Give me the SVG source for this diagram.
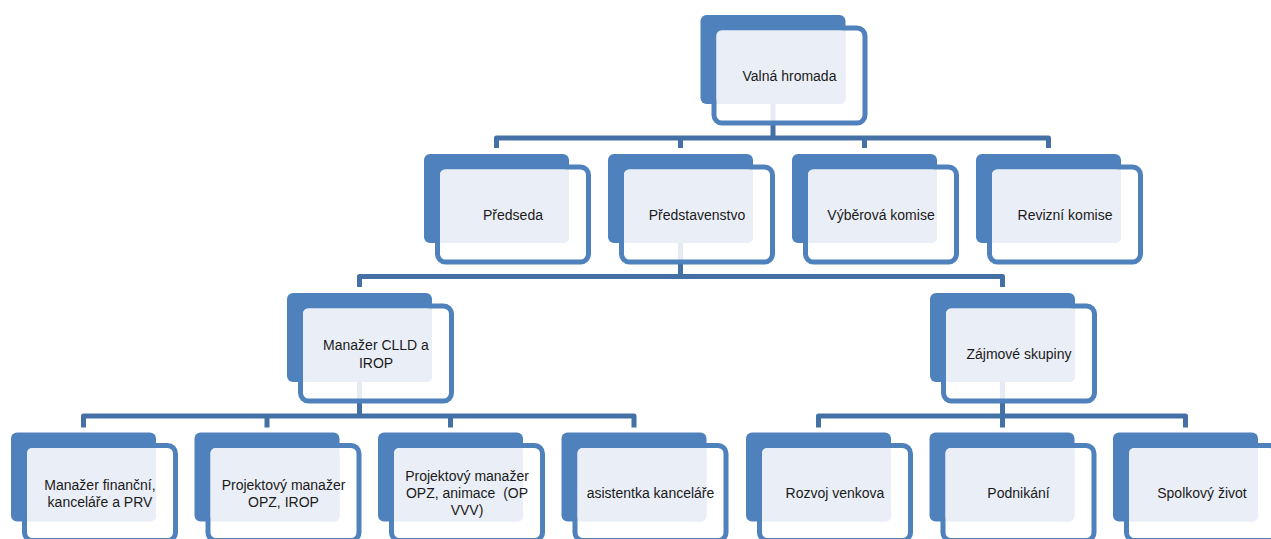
<svg xmlns="http://www.w3.org/2000/svg" width="1271" height="539" viewBox="0 0 1271 539">
<defs>
<style>
.back{fill:#4F81BD}
.front{fill:#ffffff;fill-opacity:0.86;stroke:#4F81BD;stroke-width:5}
.light{fill:#EAEFF7}
.conn{fill:none;stroke:#4570A6;stroke-width:5;stroke-linejoin:round}
text{font-family:"Liberation Sans",Arial,sans-serif;font-size:14px;fill:#1a1a1a;text-anchor:middle;white-space:pre}
</style>
<g id="nodeShape">
<rect class="back" x="0" y="0" width="145" height="89" rx="6"/>
<rect class="front" x="13.5" y="13" width="151" height="95" rx="8"/>
<rect class="light" x="16" y="15.5" width="129" height="73.5" rx="5"/>
</g>
</defs>
<rect width="1271" height="539" fill="#ffffff"/>
<g id="connectors">
<path class="conn" d="M773,100 V138 M496.5,148 V138 H1048.5 V148 M680.5,138 V148 M864.5,138 V148"/>
<path class="conn" d="M680.5,240 V276.5 M359.5,287 V276.5 H1002.5 V287"/>
<path class="conn" d="M359.5,378 V416 M83.5,427.5 V416 H634 V427.5 M267,416 V427.5 M450.5,416 V427.5"/>
<path class="conn" d="M1002.5,378 V427.5 M818.5,427.5 V416 H1185.5 V427.5"/>
</g>
<g id="n-valna" transform="translate(700.5,15)"><use href="#nodeShape"/><text x="89" y="65.5">Valná hromada</text></g>
<g id="n-predseda" transform="translate(424,154)"><use href="#nodeShape"/><text x="89" y="65.5">Předseda</text></g>
<g id="n-predstavenstvo" transform="translate(608,154)"><use href="#nodeShape"/><text x="89" y="65.5">Představenstvo</text></g>
<g id="n-vyberova" transform="translate(792,154)"><use href="#nodeShape"/><text x="89" y="65.5">Výběrová komise</text></g>
<g id="n-revizni" transform="translate(976,154)"><use href="#nodeShape"/><text x="89" y="65.5">Revizní komise</text></g>
<g id="n-manazer-clld" transform="translate(287,293)"><use href="#nodeShape"/><text x="89" y="57">Manažer CLLD a</text><text x="89" y="75">IROP</text></g>
<g id="n-zajmove" transform="translate(930,293)"><use href="#nodeShape"/><text x="89" y="65.5">Zájmové skupiny</text></g>
<g id="n-financni" transform="translate(11,432.5)"><use href="#nodeShape"/><text x="89" y="57">Manažer finanční,</text><text x="89" y="74">kanceláře a PRV</text></g>
<g id="n-projektovy1" transform="translate(194.5,432.5)"><use href="#nodeShape"/><text x="89" y="57">Projektový manažer</text><text x="89" y="74">OPZ, IROP</text></g>
<g id="n-projektovy2" transform="translate(378,432.5)"><use href="#nodeShape"/><text x="89" y="48.5">Projektový manažer</text><text x="89" y="65.5">OPZ, animace  (OP</text><text x="89" y="82.5">VVV)</text></g>
<g id="n-asistentka" transform="translate(561.5,432.5)"><use href="#nodeShape"/><text x="89" y="65.5">asistentka kanceláře</text></g>
<g id="n-rozvoj" transform="translate(746,432.5)"><use href="#nodeShape"/><text x="89" y="65.5">Rozvoj venkova</text></g>
<g id="n-podnikani" transform="translate(929.5,432.5)"><use href="#nodeShape"/><text x="89" y="65.5">Podnikání</text></g>
<g id="n-spolkovy" transform="translate(1113,432.5)"><use href="#nodeShape"/><text x="89" y="65.5">Spolkový život</text></g>
</svg>
